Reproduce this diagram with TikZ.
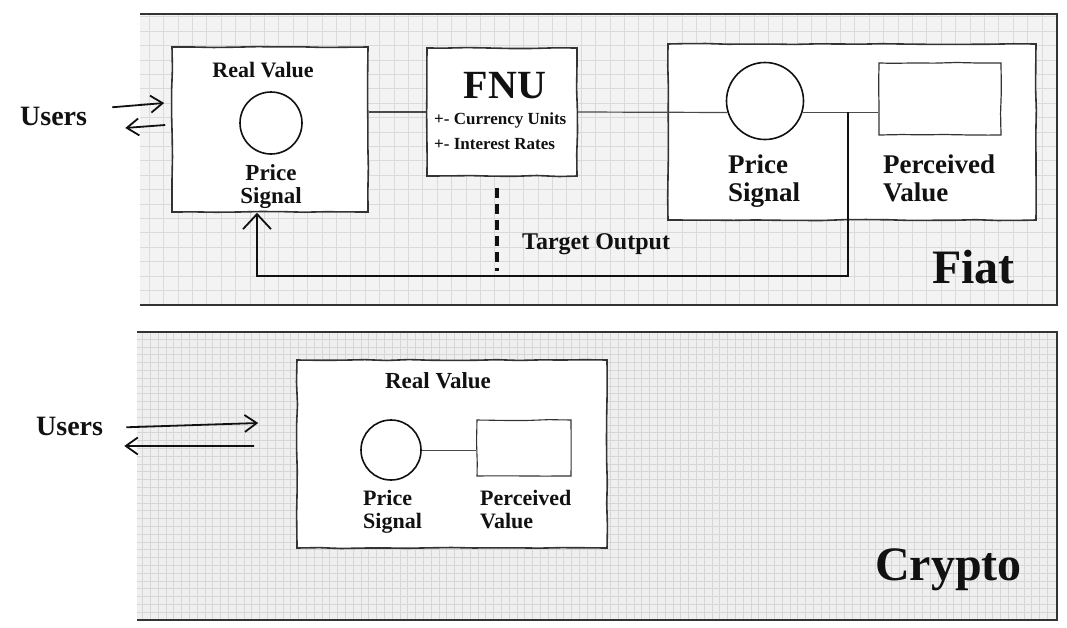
\documentclass[tikz,border=0pt]{standalone}
\usepackage{fontspec}
\setmainfont{Liberation Serif}
\usetikzlibrary{positioning,arrows.meta,decorations.pathmorphing}
\definecolor{SkInk}{HTML}{111111}
\definecolor{SkEdge}{HTML}{333333}
\definecolor{SkPaper}{HTML}{F3F3F3}
\definecolor{SkPaperB}{HTML}{EFEFEF}
\definecolor{SkGrid}{HTML}{DADADA}
\definecolor{SkGridB}{HTML}{D6D6D6}
\definecolor{SkLink}{HTML}{4A4A4A}
\newcommand{\skSize}[2]{\bfseries\fontsize{#1pt}{#2pt}\selectfont}
\tikzset{
  skText/.style={
    inner sep=0pt,
    text=SkInk
  },
  skBox/.style={
    draw=SkEdge,
    fill=white,
    line width=1.6pt,
    inner sep=0pt,
    decorate,
    decoration={random steps, segment length=22pt, amplitude=0.5pt}
  },
  skCircle/.style={
    circle,
    draw=SkInk,
    fill=white,
    line width=1.6pt,
    inner sep=0pt
  },
  skGridLine/.style={
    draw=SkGrid,
    line width=0.6pt
  },
  skGridLineB/.style={
    draw=SkGridB,
    line width=0.45pt
  },
  skPanelEdge/.style={
    draw=SkEdge,
    line width=1.3pt
  },
  skLink/.style={
    draw=SkLink,
    line width=1.2pt
  },
  skUsersArrow/.style={
    draw=SkInk,
    line width=1.8pt,
    -{Straight Barb[length=12pt,width=17pt]}
  },
  skFeedback/.style={
    draw=SkInk,
    line width=1.2pt,
    -{Straight Barb[length=15pt,width=28pt,line width=1.8pt]}
  },
  skDash/.style={
    draw=SkInk,
    line width=3.4pt,
    dash pattern=on 10pt off 6pt
  }
}

\begin{document}
\begin{tikzpicture}[x=1pt, y=-1pt]
  \pgfmathsetseed{7}
  \useasboundingbox (0,0) rectangle (1067,627);

  % Fiat panel
  \fill[SkPaper] (140,14) rectangle (1057,305);
  \foreach \gx in {149,163.4,...,1050}
    \draw[skGridLine] (\gx,14) -- (\gx,305);
  \foreach \gy in {16.7,31.1,...,300}
    \draw[skGridLine] (140,\gy) -- (1057,\gy);
  \draw[skPanelEdge] (140,14) -- (1057,14) -- (1057,305) -- (140,305);

  % Crypto panel
  \fill[SkPaperB] (137,332) rectangle (1057,620);
  \foreach \gx in {142.5,150.3,...,1055}
    \draw[skGridLineB] (\gx,332) -- (\gx,620);
  \foreach \gy in {339.1,346.9,...,618}
    \draw[skGridLineB] (137,\gy) -- (1057,\gy);
  \draw[skPanelEdge] (137,332) -- (1057,332) -- (1057,620) -- (137,620);

  % Fiat
  \node[skText, font={\skSize{28}{28}}, anchor=base west] (fiatusers) at (20,125) {Users};
  \node[skBox, minimum width=196pt, minimum height=165pt] (rvbox) at (270,129.5) {};
  \node[skText, font={\skSize{22}{22}}, anchor=base] (rvtitle) at (263,77) {Real Value};
  \node[skCircle, minimum size=62pt] (pscircle) at (271,123) {};
  \node[skText, font={\skSize{23}{23}}, align=center, below=10pt of pscircle] (pslabel) {Price\\Signal};

  \node[skBox, minimum width=150pt, minimum height=128pt] (fnubox) at (502,112) {};
  \node[skText, font={\skSize{40}{40}}, anchor=base] (fnutitle) at (505,98) {FNU};
  \node[skText, font={\skSize{17}{25}}, align=left, anchor=north west] (fnulevers) at (434,112.5) {+- Currency Units\\+- Interest Rates};

  \node[skBox, minimum width=368pt, minimum height=176pt] (pvpanel) at (852,132) {};
  \node[skCircle, minimum size=77pt] (pvcircle) at (765,101) {};
  \node[skBox, line width=1.2pt, minimum width=122pt, minimum height=72pt] (pvbox) at (940,99) {};
  \node[skText, font={\skSize{27}{28}}, align=left, anchor=north west] (pvsignal) at (728,155) {Price\\Signal};
  \node[skText, font={\skSize{27}{28}}, align=left, anchor=north west] (pvvalue) at (883,155) {Perceived\\Value};

  \node[skText, font={\skSize{24}{24}}, anchor=base west] (target) at (522,249) {Target Output};
  \node[skText, font={\skSize{48}{48}}, anchor=base east] (fiatlabel) at (1015,283) {Fiat};

  \coordinate (dashtop) at ([shift={(-5,11)}]fnubox.south);
  \coordinate (dashend) at (497,271);
  \coordinate (fbx) at (848,0);
  \coordinate (fbstart) at (pvcircle.343 -| fbx);
  \coordinate (fbturn) at (257,276);

  \draw[skLink] (fnubox.west -| rvbox.east) -- (fnubox.west);
  \draw[skLink] (fnubox.east) -- (pvcircle.197);
  \draw[skLink] (pvcircle.343) -- (pvcircle.343 -| pvbox.west);
  \draw[skFeedback] (fbstart) |- (fbturn) -- (fbturn |- rvbox.south);
  \draw[skDash] (dashtop) -- (dashend);
  \draw[skUsersArrow] ([shift={(25,-8.7)}]fiatusers.east) -- ([shift={(-7,-26.5)}]rvbox.west);
  \draw[skUsersArrow] ([shift={(-6,-4.5)}]rvbox.west) -- ([shift={(38,12)}]fiatusers.east);

  % Crypto
  \node[skText, font={\skSize{28}{28}}, anchor=base west] (cryptousers) at (36,435) {Users};
  \node[skBox, minimum width=310pt, minimum height=188pt] (rv2box) at (452,454) {};
  \node[skText, font={\skSize{23}{23}}, anchor=base] (rv2title) at (438,388) {Real Value};
  \node[skCircle, minimum size=60pt] (ps2circle) at (391,450) {};
  \node[skBox, line width=1.1pt, minimum width=94pt, minimum height=56pt] (pv2box) at (524,448) {};
  \node[skText, font={\skSize{22}{23}}, align=left, anchor=north west] (ps2label) at (363,490) {Price\\Signal};
  \node[skText, font={\skSize{22}{23}}, align=left, anchor=north west] (pv2label) at (480,490) {Perceived\\Value};
  \node[skText, font={\skSize{48}{48}}, anchor=base east] (cryptolabel) at (1022,580) {Crypto};

  \draw[skLink, line width=1pt] (ps2circle.east) -- (ps2circle.east -| pv2box.west);
  \draw[skUsersArrow] ([shift={(23,1.3)}]cryptousers.east) -- ([shift={(-38,-31)}]rv2box.west);
  \draw[skUsersArrow] ([shift={(-42,-8)}]rv2box.west) -- ([shift={(21,20)}]cryptousers.east);
\end{tikzpicture}
\end{document}
